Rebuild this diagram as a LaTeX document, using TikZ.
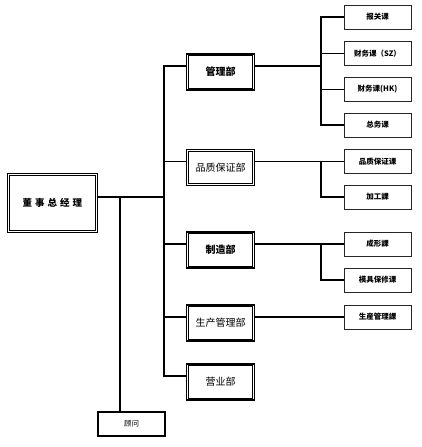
\documentclass[tikz,border=0pt]{standalone}
\usepackage{fontspec}
\newfontfamily\cjk{Noto Sans CJK SC}
\begin{document}
\begin{tikzpicture}[x=1pt,y=-1pt,
  line width=1.4pt,
  ceobox/.style={draw, line width=1.3pt, minimum width=90pt, minimum height=59pt, inner sep=0pt, font=\cjk\bfseries\fontsize{9.5}{10}\selectfont},
  deptbox/.style={draw, line width=1.3pt, minimum width=68pt, minimum height=36pt, inner sep=0pt, font=\cjk\fontsize{10}{11}\selectfont},
  deptboxb/.style={deptbox, font=\cjk\bfseries\fontsize{10}{11}\selectfont},
  innerline/.style={draw, line width=0.8pt},
  subbox/.style={draw=black!85, line width=0.9pt, minimum width=67pt, minimum height=24pt, inner sep=0pt, font=\cjk\bfseries\fontsize{7.5}{8}\selectfont},
  advbox/.style={draw, line width=1.2pt, minimum width=67pt, minimum height=24pt, inner sep=0pt, font=\cjk\fontsize{7.5}{8}\selectfont}
]
\useasboundingbox[fill=white] (0,0) rectangle (422,447);

\node[ceobox] (ceo) at (52.5,203) {董\hspace{3pt}事\hspace{3pt}总\hspace{3pt}经\hspace{3pt}理};
\node[advbox] (adv) at (131.5,424) {顾问};

\node[deptboxb] (d1) at (220.5,72) {管理部};
\node[deptbox]  (d2) at (220.5,167.5) {品质保证部};
\node[deptboxb] (d3) at (220.5,250) {制造部};
\node[deptbox]  (d4) at (220.5,323) {生产管理部};
\node[deptbox]  (d5) at (220.5,382) {营业部};

\foreach \n in {ceo,d1,d2,d3,d4,d5}
  \draw[innerline] ([shift={(2.5pt,-2.5pt)}]\n.north west) rectangle ([shift={(-2.5pt,2.5pt)}]\n.south east);

\node[subbox] (s1) at (377.5,17) {报关课};
\node[subbox] (s2) at (377.5,53.5) {财务课（SZ）};
\node[subbox] (s3) at (377.5,89.5) {财务课(HK)};
\node[subbox] (s4) at (377.5,125) {总务课};
\node[subbox] (s5) at (377.5,161.5) {品质保证课};
\node[subbox] (s6) at (377.5,197) {加工課};
\node[subbox] (s7) at (377.5,244) {成形課};
\node[subbox] (s8) at (377.5,280) {模具保修课};
\node[subbox] (s9) at (377.5,317) {生産管理課};

\coordinate (t) at (164,0);
\coordinate (a0) at (120,197);
\coordinate (k) at (321,0);

% main trunk
\draw ([yshift=6pt]d1.west) -- ([yshift=6pt]d1.west -| t) -- ([yshift=6pt]d5.west -| t) -- ([yshift=6pt]d5.west);
\draw ([yshift=6pt]d2.west) -- ([yshift=6pt]d2.west -| t);
\draw ([yshift=6pt]d3.west) -- ([yshift=6pt]d3.west -| t);
\draw ([yshift=6pt]d4.west) -- ([yshift=6pt]d4.west -| t);
\draw ([yshift=6pt]ceo.east) -- ([yshift=6pt]ceo.east -| t);
\draw (a0) -- (a0 |- adv.north);

% management
\draw ([yshift=6pt]d1.east) -- ([yshift=6pt]d1.east -| k);
\draw (s1.west) -- (s1.west -| k) -- (s4.west -| k) -- (s4.west);
\draw (s2.west) -- (s2.west -| k);
\draw (s3.west) -- (s3.west -| k);

% quality
\draw ([yshift=6pt]d2.east) -- (s5.west);
\draw (s5.west -| k) -- (s6.west -| k) -- (s6.west);

% manufacturing
\draw ([yshift=6pt]d3.east) -- (s7.west);
\draw (s7.west -| k) -- (s8.west -| k) -- (s8.west);

% production
\draw ([yshift=6pt]d4.east) -- (s9.west);
\end{tikzpicture}
\end{document}
